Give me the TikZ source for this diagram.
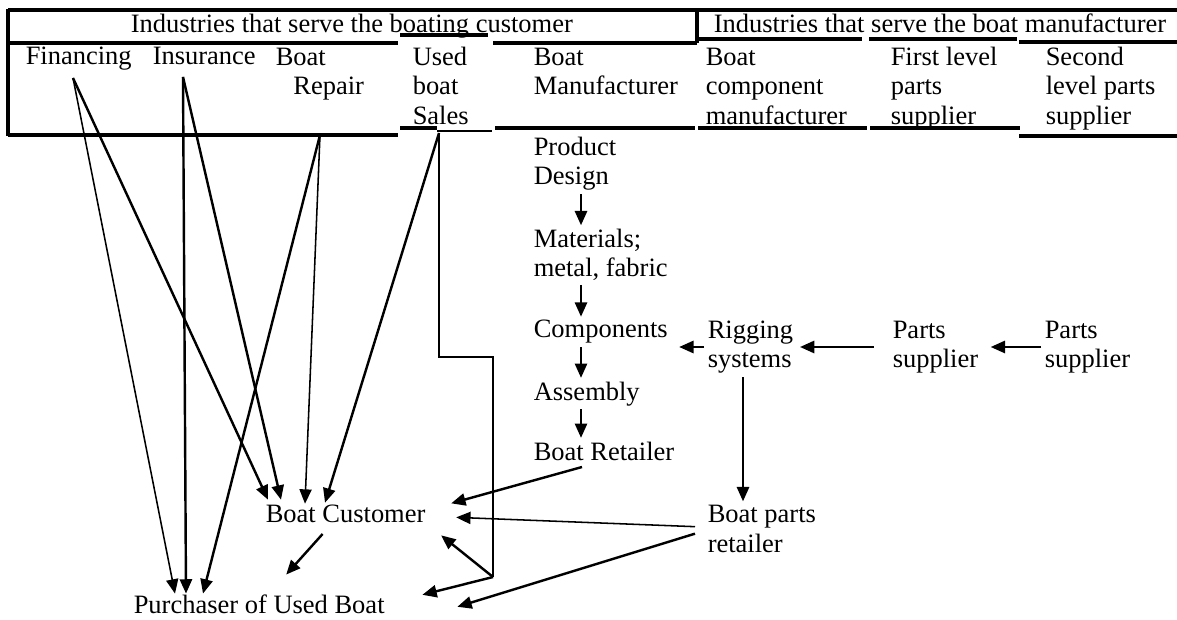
\documentclass[tikz,border=0pt]{standalone}
\usepackage{fontspec}
\setmainfont{Liberation Serif}
\usetikzlibrary{arrows.meta,calc}

\tikzset{
  lbl/.style={anchor=base west, inner sep=1.5pt, align=left, font=\fontsize{12}{13.4}\selectfont},
  rule/.style={line width=1.4pt},
  arr/.style={line width=1.1pt, -{Triangle[length=6.5pt,width=5.5pt]}},
  thinarr/.style={line width=0.7pt, -{Triangle[length=6.5pt,width=5.5pt]}},
}

\begin{document}
\begin{tikzpicture}[x=0.453pt, y=-0.453pt]
        \useasboundingbox (0,0) rectangle (1177,620);

        % Table frame
        \draw[rule] (8,10) -- (1177,10);
        \draw[rule] (8,9.3) -- (8,135.7);
        \draw[rule] (697,10) -- (697,43);
        \draw[rule] (8,43) -- (398,43);
        \draw[rule] (400,35) -- (488,35);
        \draw[rule] (493,43) -- (697,43);
        \draw[rule] (698,39) -- (862,39);
        \draw[rule] (869,39) -- (1017,39);
        \draw[rule] (1019,42) -- (1177,42);
        \draw[rule] (8,135) -- (398,135);
        \draw[rule] (400,128) -- (437,128);
        \draw[line width=0.9pt] (437,131) -- (492,131);
        \draw[rule] (495,128) -- (695,128);
        \draw[rule] (698,128) -- (867,128);
        \draw[rule] (870,128) -- (1020,128);
        \draw[rule] (1019,136) -- (1177,136);

        % Table headings (base = last line)
        \node[lbl] (custhead) at (127,33) {Industries that serve the boating customer};
        \node[lbl] (manhead) at (710,33) {Industries that serve the boat manufacturer};
        \node[lbl] (fin) at (22,65) {Financing};
        \node[lbl] (ins) at (149,65) {Insurance};
        \node[lbl] (rep) at (272,94.6) {Boat\\\hspace{8pt}Repair};
        \node[lbl] (used) at (409,124.2) {Used\\boat\\Sales};
        \node[lbl] (bman) at (530,94.6) {Boat\\Manufacturer};
        \node[lbl] (bcomp) at (702,124.2) {Boat\\component\\manufacturer};
        \node[lbl] (first) at (887,124.2) {First level\\parts\\supplier};
        \node[lbl] (second) at (1042,124.2) {Second\\level parts\\supplier};

        % Manufacturing chain
        \node[lbl] (design) at (530,185) {Product\\Design};
        \node[lbl] (mat) at (530,277) {Materials;\\metal, fabric};
        \node[lbl] (comp) at (530,338) {Components};
        \node[lbl] (asm) at (530,400) {Assembly};
        \node[lbl] (retail) at (530,460) {Boat Retailer};
        \node[lbl] (rig) at (704,368) {Rigging\\systems};
        \node[lbl] (parts1) at (889,368) {Parts\\supplier};
        \node[lbl] (parts2) at (1041,368) {Parts\\supplier};
        \node[lbl] (bparts) at (704,552) {Boat parts\\retailer};

        % Customers
        \node[lbl] (cust) at (262,522) {Boat Customer};
        \node[lbl] (purch) at (130,613) {Purchaser of Used Boat};

        % Helper points
        \coordinate (flowx) at (581,0);
        \coordinate (rigx) at (743,0);
        \coordinate (rowy) at (0,347);
        \coordinate (finS) at (73,78);
        \coordinate (insS) at (183,77);
        \coordinate (repS) at (320,135);
        \coordinate (usedS) at (439,133);
        \coordinate (usedA) at (439,357);
        \coordinate (usedB) at (493,357);
        \coordinate (usedC) at (493,577);

        % Chain arrows
        \draw[arr] (design.south -| flowx) -- (mat.north -| flowx);
        \draw[arr] (mat.south -| flowx) -- (comp.north -| flowx);
        \draw[arr] (comp.south -| flowx) -- (asm.north -| flowx);
        \draw[arr] (asm.south -| flowx) -- (retail.north -| flowx);
        \draw[arr, shorten >=3.5pt] (rig.west |- rowy) -- (comp.east |- rowy);
        \draw[arr, shorten <=7pt, shorten >=1.4pt] (parts1.west |- rowy) -- (rig.east |- rowy);
        \draw[arr, shorten >=4pt] (parts2.west |- rowy) -- (parts1.east |- rowy);
        \draw[arr] (rig.south -| rigx) -- (bparts.north -| rigx);

        % Service lines
        \draw[arr] (finS) -- ($(cust.north west)+(6,-1)$);
        \draw[thinarr] (finS) -- ($(purch.north west)+(45,3)$);
        \draw[arr] (insS) -- ($(cust.north west)+(19,-1)$);
        \draw[arr] (insS) -- ($(purch.north west)+(56,3)$);
        \draw[thinarr] (repS) -- ($(cust.north west)+(43,3)$);
        \draw[arr] (repS) -- ($(purch.north west)+(73,3)$);
        \draw[arr] (usedS) -- ($(cust.north west)+(63,2)$);
        \draw[line width=1.1pt] (usedS) -- (usedA) -- (usedB) -- (usedC);
        \draw[arr] (usedC) -- ($(cust.east)+(12,22)$);
        \draw[arr] (usedC) -- ($(purch.east)+(34,-9)$);

        % Retail lines
        \draw[arr] ($(retail.south)+(-22,3)$) -- ($(cust.east)+(22,-10)$);
        \draw[thinarr] ($(bparts.west)+(-9,-2)$) -- ($(cust.east)+(27,4)$);
        \draw[arr] ($(bparts.west)+(-9,5)$) -- ($(purch.east)+(69,3)$);
        \draw[arr] ($(cust.south)+(-23,8)$) -- ($(purch.north)+(27,-16)$);
\end{tikzpicture}
\end{document}
